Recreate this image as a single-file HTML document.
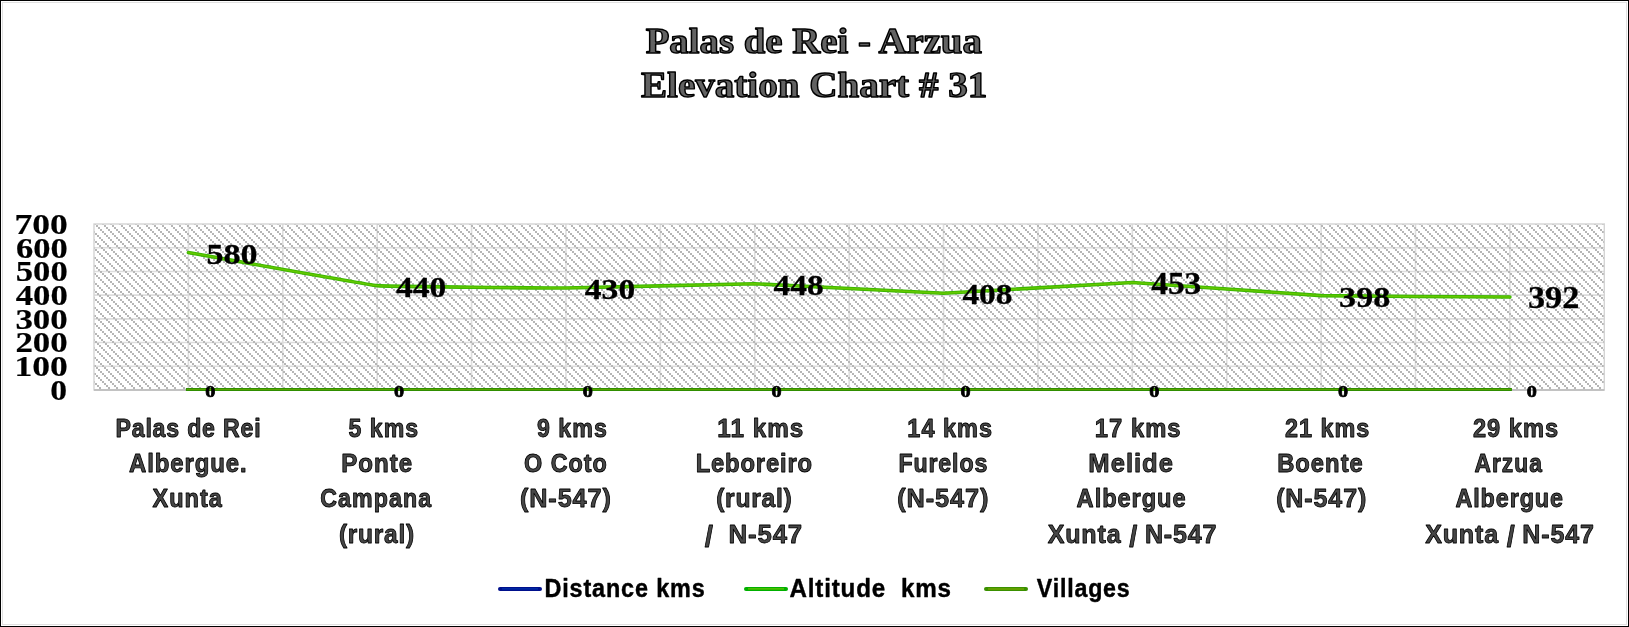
<!DOCTYPE html>
<html><head><meta charset="utf-8"><style>
html,body{margin:0;padding:0;background:#fff;}
body{width:1629px;height:627px;overflow:hidden;position:relative;}
svg{position:absolute;left:0;top:0;display:block;will-change:transform;}
</style></head><body>
<svg width="1629" height="627" viewBox="0 0 1629 627">
<defs>
<pattern id="hatch" patternUnits="userSpaceOnUse" x="96" y="225" width="25" height="50">
<g fill="#b6b6b6" shape-rendering="crispEdges">
<rect x="0" y="0" width="2" height="2"/>
<rect x="2" y="2" width="2" height="2"/>
<rect x="4" y="4" width="2" height="2"/>
<rect x="6" y="6" width="2" height="2"/>
<rect x="8" y="8" width="2" height="2"/>
<rect x="10" y="10" width="2" height="2"/>
<rect x="12" y="12" width="2" height="2"/>
<rect x="14" y="14" width="2" height="2"/>
<rect x="16" y="16" width="2" height="2"/>
<rect x="18" y="18" width="2" height="2"/>
<rect x="20" y="20" width="2" height="2"/>
<rect x="22" y="22" width="2" height="2"/>
<rect x="24" y="24" width="2" height="2"/>
<rect x="-1" y="24" width="2" height="2"/>
<rect x="1" y="26" width="2" height="2"/>
<rect x="3" y="28" width="2" height="2"/>
<rect x="5" y="30" width="2" height="2"/>
<rect x="7" y="32" width="2" height="2"/>
<rect x="9" y="34" width="2" height="2"/>
<rect x="11" y="36" width="2" height="2"/>
<rect x="13" y="38" width="2" height="2"/>
<rect x="15" y="40" width="2" height="2"/>
<rect x="17" y="42" width="2" height="2"/>
<rect x="19" y="44" width="2" height="2"/>
<rect x="21" y="46" width="2" height="2"/>
<rect x="23" y="48" width="2" height="2"/>
<rect x="8" y="0" width="2" height="2"/>
<rect x="10" y="2" width="2" height="2"/>
<rect x="12" y="4" width="2" height="2"/>
<rect x="14" y="6" width="2" height="2"/>
<rect x="16" y="8" width="2" height="2"/>
<rect x="18" y="10" width="2" height="2"/>
<rect x="20" y="12" width="2" height="2"/>
<rect x="22" y="14" width="2" height="2"/>
<rect x="24" y="16" width="2" height="2"/>
<rect x="-1" y="16" width="2" height="2"/>
<rect x="1" y="18" width="2" height="2"/>
<rect x="3" y="20" width="2" height="2"/>
<rect x="5" y="22" width="2" height="2"/>
<rect x="7" y="24" width="2" height="2"/>
<rect x="9" y="26" width="2" height="2"/>
<rect x="11" y="28" width="2" height="2"/>
<rect x="13" y="30" width="2" height="2"/>
<rect x="15" y="32" width="2" height="2"/>
<rect x="17" y="34" width="2" height="2"/>
<rect x="19" y="36" width="2" height="2"/>
<rect x="21" y="38" width="2" height="2"/>
<rect x="23" y="40" width="2" height="2"/>
<rect x="0" y="42" width="2" height="2"/>
<rect x="2" y="44" width="2" height="2"/>
<rect x="4" y="46" width="2" height="2"/>
<rect x="6" y="48" width="2" height="2"/>
<rect x="16" y="0" width="2" height="2"/>
<rect x="18" y="2" width="2" height="2"/>
<rect x="20" y="4" width="2" height="2"/>
<rect x="22" y="6" width="2" height="2"/>
<rect x="24" y="8" width="2" height="2"/>
<rect x="-1" y="8" width="2" height="2"/>
<rect x="1" y="10" width="2" height="2"/>
<rect x="3" y="12" width="2" height="2"/>
<rect x="5" y="14" width="2" height="2"/>
<rect x="7" y="16" width="2" height="2"/>
<rect x="9" y="18" width="2" height="2"/>
<rect x="11" y="20" width="2" height="2"/>
<rect x="13" y="22" width="2" height="2"/>
<rect x="15" y="24" width="2" height="2"/>
<rect x="17" y="26" width="2" height="2"/>
<rect x="19" y="28" width="2" height="2"/>
<rect x="21" y="30" width="2" height="2"/>
<rect x="23" y="32" width="2" height="2"/>
<rect x="0" y="34" width="2" height="2"/>
<rect x="2" y="36" width="2" height="2"/>
<rect x="4" y="38" width="2" height="2"/>
<rect x="6" y="40" width="2" height="2"/>
<rect x="8" y="42" width="2" height="2"/>
<rect x="10" y="44" width="2" height="2"/>
<rect x="12" y="46" width="2" height="2"/>
<rect x="14" y="48" width="2" height="2"/>
</g>
</pattern>
</defs>
<rect x="0" y="0" width="1629" height="627" fill="#fff"/>
<g shape-rendering="crispEdges">
<rect x="0" y="0" width="1629" height="1" fill="#000"/>
<rect x="0" y="626" width="1629" height="1" fill="#000"/>
<rect x="0" y="0" width="1" height="627" fill="#000"/>
<rect x="1628" y="0" width="1" height="627" fill="#000"/>
<rect x="2" y="2" width="1625" height="1" fill="#e0e0e0"/>
<rect x="2" y="624" width="1625" height="1" fill="#e0e0e0"/>
<rect x="2" y="2" width="1" height="623" fill="#e0e0e0"/>
<rect x="1626" y="2" width="1" height="623" fill="#e0e0e0"/>
</g>
<text transform="translate(645.67,53.15) scale(1.0550,1)" font-family="Liberation Serif" font-weight="bold" font-size="36.79" fill="#626262" stroke="#000" stroke-width="1.422" stroke-linejoin="round" xml:space="preserve">Palas de Rei - Arzua</text>
<text transform="translate(640.96,97.25) scale(1.0627,1)" font-family="Liberation Serif" font-weight="bold" font-size="36.79" fill="#626262" stroke="#000" stroke-width="1.411" stroke-linejoin="round" xml:space="preserve">Elevation Chart # 31</text>
<g stroke="#dddddd" stroke-width="1.6">
<line x1="94.0" y1="366.29" x2="1604.3" y2="366.29"/>
<line x1="94.0" y1="342.57" x2="1604.3" y2="342.57"/>
<line x1="94.0" y1="318.86" x2="1604.3" y2="318.86"/>
<line x1="94.0" y1="295.14" x2="1604.3" y2="295.14"/>
<line x1="94.0" y1="271.43" x2="1604.3" y2="271.43"/>
<line x1="94.0" y1="247.71" x2="1604.3" y2="247.71"/>
<line x1="188.39" y1="224.0" x2="188.39" y2="390.0"/>
<line x1="282.79" y1="224.0" x2="282.79" y2="390.0"/>
<line x1="377.18" y1="224.0" x2="377.18" y2="390.0"/>
<line x1="471.57" y1="224.0" x2="471.57" y2="390.0"/>
<line x1="565.97" y1="224.0" x2="565.97" y2="390.0"/>
<line x1="660.36" y1="224.0" x2="660.36" y2="390.0"/>
<line x1="754.76" y1="224.0" x2="754.76" y2="390.0"/>
<line x1="849.15" y1="224.0" x2="849.15" y2="390.0"/>
<line x1="943.54" y1="224.0" x2="943.54" y2="390.0"/>
<line x1="1037.94" y1="224.0" x2="1037.94" y2="390.0"/>
<line x1="1132.33" y1="224.0" x2="1132.33" y2="390.0"/>
<line x1="1226.72" y1="224.0" x2="1226.72" y2="390.0"/>
<line x1="1321.12" y1="224.0" x2="1321.12" y2="390.0"/>
<line x1="1415.51" y1="224.0" x2="1415.51" y2="390.0"/>
<line x1="1509.91" y1="224.0" x2="1509.91" y2="390.0"/>
</g>
<rect x="94.0" y="224.0" width="1510.3" height="166.0" fill="url(#hatch)"/>
<rect x="94.0" y="224.0" width="1510.3" height="166.0" fill="none" stroke="#d4d4d4" stroke-width="1.4"/>
<text transform="translate(50.26,399.81) scale(1.1445,1)" font-family="Liberation Serif" font-weight="bold" font-size="29.33" fill="#000" stroke="#000" stroke-width="0.2" stroke-linejoin="round" xml:space="preserve">0</text>
<text transform="translate(14.45,376.09) scale(1.2129,1)" font-family="Liberation Serif" font-weight="bold" font-size="29.33" fill="#000" stroke="#000" stroke-width="0.2" stroke-linejoin="round" xml:space="preserve">100</text>
<text transform="translate(15.40,352.38) scale(1.1908,1)" font-family="Liberation Serif" font-weight="bold" font-size="29.33" fill="#000" stroke="#000" stroke-width="0.2" stroke-linejoin="round" xml:space="preserve">200</text>
<text transform="translate(15.40,328.66) scale(1.1908,1)" font-family="Liberation Serif" font-weight="bold" font-size="29.33" fill="#000" stroke="#000" stroke-width="0.2" stroke-linejoin="round" xml:space="preserve">300</text>
<text transform="translate(15.68,304.95) scale(1.1843,1)" font-family="Liberation Serif" font-weight="bold" font-size="29.33" fill="#000" stroke="#000" stroke-width="0.2" stroke-linejoin="round" xml:space="preserve">400</text>
<text transform="translate(15.81,281.24) scale(1.1812,1)" font-family="Liberation Serif" font-weight="bold" font-size="29.33" fill="#000" stroke="#000" stroke-width="0.2" stroke-linejoin="round" xml:space="preserve">500</text>
<text transform="translate(15.99,257.52) scale(1.1770,1)" font-family="Liberation Serif" font-weight="bold" font-size="29.33" fill="#000" stroke="#000" stroke-width="0.2" stroke-linejoin="round" xml:space="preserve">600</text>
<text transform="translate(14.55,233.81) scale(1.2108,1)" font-family="Liberation Serif" font-weight="bold" font-size="29.33" fill="#000" stroke="#000" stroke-width="0.2" stroke-linejoin="round" xml:space="preserve">700</text>
<rect x="94.0" y="389" width="1510.3" height="2" fill="#c2c2c2"/>
<path d="M187.39,389.5 L1510.41,389.5" stroke="#2f8e00" stroke-width="3" fill="none" stroke-linecap="square"/>
<path d="M187.39,389.5 L1510.41,389.5" stroke="#5aa400" stroke-width="1" fill="none" stroke-linecap="square"/>
<path d="M188.39,252.46 C193.11,253.29 367.74,284.77 377.18,285.66 C386.62,286.55 556.53,288.08 565.97,288.03 C575.41,287.98 745.32,283.63 754.76,283.76 C764.20,283.89 934.10,293.28 943.54,293.25 C952.98,293.22 1122.89,282.51 1132.33,282.57 C1141.77,282.63 1311.68,295.26 1321.12,295.62 C1330.56,295.98 1505.19,297.00 1509.91,297.04" stroke="#3cb800" stroke-width="3.6" fill="none" stroke-linecap="round" stroke-linejoin="round"/>
<path d="M188.39,252.46 C193.11,253.29 367.74,284.77 377.18,285.66 C386.62,286.55 556.53,288.08 565.97,288.03 C575.41,287.98 745.32,283.63 754.76,283.76 C764.20,283.89 934.10,293.28 943.54,293.25 C952.98,293.22 1122.89,282.51 1132.33,282.57 C1141.77,282.63 1311.68,295.26 1321.12,295.62 C1330.56,295.98 1505.19,297.00 1509.91,297.04" stroke="#66c800" stroke-width="1.4" fill="none" stroke-linecap="round" stroke-linejoin="round"/>
<text transform="translate(206.38,263.60) scale(1.1246,1)" font-family="Liberation Serif" font-weight="bold" font-size="30.37" fill="#000" stroke="#000" stroke-width="0.3" stroke-linejoin="round" xml:space="preserve">580</text>
<text transform="translate(205.23,396.88) scale(1.1879,1)" font-family="Liberation Serif" font-weight="bold" font-size="17.04" fill="#000" stroke="#000" stroke-width="0.7" stroke-linejoin="round" xml:space="preserve">0</text>
<text transform="translate(396.03,296.80) scale(1.1052,1)" font-family="Liberation Serif" font-weight="bold" font-size="30.37" fill="#000" stroke="#000" stroke-width="0.3" stroke-linejoin="round" xml:space="preserve">440</text>
<text transform="translate(394.02,396.88) scale(1.1879,1)" font-family="Liberation Serif" font-weight="bold" font-size="17.04" fill="#000" stroke="#000" stroke-width="0.7" stroke-linejoin="round" xml:space="preserve">0</text>
<text transform="translate(584.82,299.17) scale(1.1052,1)" font-family="Liberation Serif" font-weight="bold" font-size="30.37" fill="#000" stroke="#000" stroke-width="0.3" stroke-linejoin="round" xml:space="preserve">430</text>
<text transform="translate(582.81,396.88) scale(1.1879,1)" font-family="Liberation Serif" font-weight="bold" font-size="17.04" fill="#000" stroke="#000" stroke-width="0.7" stroke-linejoin="round" xml:space="preserve">0</text>
<text transform="translate(773.60,294.91) scale(1.1013,1)" font-family="Liberation Serif" font-weight="bold" font-size="30.37" fill="#000" stroke="#000" stroke-width="0.3" stroke-linejoin="round" xml:space="preserve">448</text>
<text transform="translate(771.60,396.88) scale(1.1879,1)" font-family="Liberation Serif" font-weight="bold" font-size="17.04" fill="#000" stroke="#000" stroke-width="0.7" stroke-linejoin="round" xml:space="preserve">0</text>
<text transform="translate(962.39,304.39) scale(1.1013,1)" font-family="Liberation Serif" font-weight="bold" font-size="30.37" fill="#000" stroke="#000" stroke-width="0.3" stroke-linejoin="round" xml:space="preserve">408</text>
<text transform="translate(960.38,396.88) scale(1.1879,1)" font-family="Liberation Serif" font-weight="bold" font-size="17.04" fill="#000" stroke="#000" stroke-width="0.7" stroke-linejoin="round" xml:space="preserve">0</text>
<text transform="translate(1151.18,293.72) scale(1.0932,1)" font-family="Liberation Serif" font-weight="bold" font-size="30.60" fill="#000" stroke="#000" stroke-width="0.3" stroke-linejoin="round" xml:space="preserve">453</text>
<text transform="translate(1149.17,396.88) scale(1.1879,1)" font-family="Liberation Serif" font-weight="bold" font-size="17.04" fill="#000" stroke="#000" stroke-width="0.7" stroke-linejoin="round" xml:space="preserve">0</text>
<text transform="translate(1339.11,306.76) scale(1.1207,1)" font-family="Liberation Serif" font-weight="bold" font-size="30.37" fill="#000" stroke="#000" stroke-width="0.3" stroke-linejoin="round" xml:space="preserve">398</text>
<text transform="translate(1337.96,396.88) scale(1.1879,1)" font-family="Liberation Serif" font-weight="bold" font-size="17.04" fill="#000" stroke="#000" stroke-width="0.7" stroke-linejoin="round" xml:space="preserve">0</text>
<text transform="translate(1527.89,308.18) scale(1.1202,1)" font-family="Liberation Serif" font-weight="bold" font-size="30.60" fill="#000" stroke="#000" stroke-width="0.3" stroke-linejoin="round" xml:space="preserve">392</text>
<text transform="translate(1526.75,396.88) scale(1.1879,1)" font-family="Liberation Serif" font-weight="bold" font-size="17.04" fill="#000" stroke="#000" stroke-width="0.7" stroke-linejoin="round" xml:space="preserve">0</text>
<text transform="translate(115.49,436.60) scale(0.9198,1)" font-family="Liberation Sans" font-weight="bold" font-size="25.22" fill="#474747" stroke="#000" stroke-width="0.870" stroke-linejoin="round" letter-spacing="0.842" xml:space="preserve">Palas de Rei</text>
<text transform="translate(129.10,471.60) scale(0.9509,1)" font-family="Liberation Sans" font-weight="bold" font-size="25.22" fill="#474747" stroke="#000" stroke-width="0.841" stroke-linejoin="round" letter-spacing="0.909" xml:space="preserve">Albergue.</text>
<text transform="translate(152.46,506.60) scale(0.9326,1)" font-family="Liberation Sans" font-weight="bold" font-size="25.22" fill="#474747" stroke="#000" stroke-width="0.858" stroke-linejoin="round" letter-spacing="1.115" xml:space="preserve">Xunta</text>
<text transform="translate(348.41,436.60) scale(0.9181,1)" font-family="Liberation Sans" font-weight="bold" font-size="25.22" fill="#474747" stroke="#000" stroke-width="0.871" stroke-linejoin="round" letter-spacing="1.113" xml:space="preserve">5 kms</text>
<text transform="translate(341.13,471.60) scale(0.9559,1)" font-family="Liberation Sans" font-weight="bold" font-size="25.22" fill="#474747" stroke="#000" stroke-width="0.837" stroke-linejoin="round" letter-spacing="1.076" xml:space="preserve">Ponte</text>
<text transform="translate(320.17,506.60) scale(0.9192,1)" font-family="Liberation Sans" font-weight="bold" font-size="25.22" fill="#474747" stroke="#000" stroke-width="0.870" stroke-linejoin="round" letter-spacing="1.198" xml:space="preserve">Campana</text>
<text transform="translate(338.98,542.50) scale(0.9713,1)" font-family="Liberation Sans" font-weight="bold" font-size="25.22" fill="#474747" stroke="#000" stroke-width="0.824" stroke-linejoin="round" letter-spacing="0.748" xml:space="preserve">(rural)</text>
<text transform="translate(536.99,436.60) scale(0.9197,1)" font-family="Liberation Sans" font-weight="bold" font-size="25.22" fill="#474747" stroke="#000" stroke-width="0.870" stroke-linejoin="round" letter-spacing="1.111" xml:space="preserve">9 kms</text>
<text transform="translate(524.06,471.60) scale(0.9279,1)" font-family="Liberation Sans" font-weight="bold" font-size="25.22" fill="#474747" stroke="#000" stroke-width="0.862" stroke-linejoin="round" letter-spacing="1.046" xml:space="preserve">O Coto</text>
<text transform="translate(519.94,506.60) scale(1.0016,1)" font-family="Liberation Sans" font-weight="bold" font-size="25.22" fill="#474747" stroke="#000" stroke-width="0.799" stroke-linejoin="round" letter-spacing="0.883" xml:space="preserve">(N-547)</text>
<text transform="translate(717.32,436.60) scale(0.9625,1)" font-family="Liberation Sans" font-weight="bold" font-size="25.22" fill="#474747" stroke="#000" stroke-width="0.831" stroke-linejoin="round" letter-spacing="1.040" xml:space="preserve">11 kms</text>
<text transform="translate(695.65,471.60) scale(0.9433,1)" font-family="Liberation Sans" font-weight="bold" font-size="25.22" fill="#474747" stroke="#000" stroke-width="0.848" stroke-linejoin="round" letter-spacing="0.906" xml:space="preserve">Leboreiro</text>
<text transform="translate(716.17,506.60) scale(0.9780,1)" font-family="Liberation Sans" font-weight="bold" font-size="25.22" fill="#474747" stroke="#000" stroke-width="0.818" stroke-linejoin="round" letter-spacing="0.748" xml:space="preserve">(rural)</text>
<text transform="translate(704.64,542.50) scale(1.0235,1)" font-family="Liberation Sans" font-weight="bold" font-size="25.22" fill="#474747" stroke="#000" stroke-width="0.782" stroke-linejoin="round" letter-spacing="0.805" xml:space="preserve"><tspan font-size="29.00" dy="4.1">/</tspan><tspan dy="-4.1" dx="-1.05">  N-547</tspan></text>
<text transform="translate(907.37,436.60) scale(0.9316,1)" font-family="Liberation Sans" font-weight="bold" font-size="25.22" fill="#474747" stroke="#000" stroke-width="0.859" stroke-linejoin="round" letter-spacing="1.058" xml:space="preserve">14 kms</text>
<text transform="translate(898.39,471.60) scale(0.9199,1)" font-family="Liberation Sans" font-weight="bold" font-size="25.22" fill="#474747" stroke="#000" stroke-width="0.870" stroke-linejoin="round" letter-spacing="0.940" xml:space="preserve">Furelos</text>
<text transform="translate(897.13,506.60) scale(1.0061,1)" font-family="Liberation Sans" font-weight="bold" font-size="25.22" fill="#474747" stroke="#000" stroke-width="0.795" stroke-linejoin="round" letter-spacing="0.883" xml:space="preserve">(N-547)</text>
<text transform="translate(1094.85,436.60) scale(0.9441,1)" font-family="Liberation Sans" font-weight="bold" font-size="25.22" fill="#474747" stroke="#000" stroke-width="0.847" stroke-linejoin="round" letter-spacing="1.058" xml:space="preserve">17 kms</text>
<text transform="translate(1088.33,471.60) scale(1.0167,1)" font-family="Liberation Sans" font-weight="bold" font-size="25.22" fill="#474747" stroke="#000" stroke-width="0.787" stroke-linejoin="round" letter-spacing="0.969" xml:space="preserve">Melide</text>
<text transform="translate(1076.61,506.60) scale(0.9391,1)" font-family="Liberation Sans" font-weight="bold" font-size="25.22" fill="#474747" stroke="#000" stroke-width="0.852" stroke-linejoin="round" letter-spacing="0.983" xml:space="preserve">Albergue</text>
<text transform="translate(1047.65,542.50) scale(0.9948,1)" font-family="Liberation Sans" font-weight="bold" font-size="25.22" fill="#474747" stroke="#000" stroke-width="0.804" stroke-linejoin="round" letter-spacing="0.842" xml:space="preserve">Xunta <tspan font-size="29.00" dy="4.1">/</tspan><tspan dy="-4.1" dx="-1.05"> N-547</tspan></text>
<text transform="translate(1284.98,436.60) scale(0.9288,1)" font-family="Liberation Sans" font-weight="bold" font-size="25.22" fill="#474747" stroke="#000" stroke-width="0.861" stroke-linejoin="round" letter-spacing="1.067" xml:space="preserve">21 kms</text>
<text transform="translate(1277.15,471.60) scale(0.9438,1)" font-family="Liberation Sans" font-weight="bold" font-size="25.22" fill="#474747" stroke="#000" stroke-width="0.848" stroke-linejoin="round" letter-spacing="1.059" xml:space="preserve">Boente</text>
<text transform="translate(1276.15,506.60) scale(0.9936,1)" font-family="Liberation Sans" font-weight="bold" font-size="25.22" fill="#474747" stroke="#000" stroke-width="0.805" stroke-linejoin="round" letter-spacing="0.883" xml:space="preserve">(N-547)</text>
<text transform="translate(1472.97,436.60) scale(0.9378,1)" font-family="Liberation Sans" font-weight="bold" font-size="25.22" fill="#474747" stroke="#000" stroke-width="0.853" stroke-linejoin="round" letter-spacing="1.067" xml:space="preserve">29 kms</text>
<text transform="translate(1474.53,471.60) scale(0.9038,1)" font-family="Liberation Sans" font-weight="bold" font-size="25.22" fill="#474747" stroke="#000" stroke-width="0.885" stroke-linejoin="round" letter-spacing="1.109" xml:space="preserve">Arzua</text>
<text transform="translate(1455.42,506.60) scale(0.9269,1)" font-family="Liberation Sans" font-weight="bold" font-size="25.22" fill="#474747" stroke="#000" stroke-width="0.863" stroke-linejoin="round" letter-spacing="0.983" xml:space="preserve">Albergue</text>
<text transform="translate(1425.15,542.50) scale(0.9942,1)" font-family="Liberation Sans" font-weight="bold" font-size="25.22" fill="#474747" stroke="#000" stroke-width="0.805" stroke-linejoin="round" letter-spacing="0.842" xml:space="preserve">Xunta <tspan font-size="29.00" dy="4.1">/</tspan><tspan dy="-4.1" dx="-1.05"> N-547</tspan></text>
<line x1="500" y1="588.9" x2="540" y2="588.9" stroke="#00108c" stroke-width="4" stroke-linecap="round"/>
<line x1="502" y1="588.9" x2="538" y2="588.9" stroke="#0030aa" stroke-width="1.3"/>
<line x1="746" y1="588.9" x2="786" y2="588.9" stroke="#00b000" stroke-width="4" stroke-linecap="round"/>
<line x1="748" y1="588.9" x2="784" y2="588.9" stroke="#66c400" stroke-width="1.4"/>
<line x1="986" y1="589" x2="1026" y2="589" stroke="#3a9000" stroke-width="4" stroke-linecap="round"/>
<line x1="988" y1="589" x2="1024" y2="589" stroke="#70a600" stroke-width="1.4"/>
<text transform="translate(544.48,596.70) scale(0.8969,1)" font-family="Liberation Sans" font-weight="bold" font-size="26.09" fill="#000" stroke="#000" stroke-width="0.446" stroke-linejoin="round" letter-spacing="0.960" xml:space="preserve">Distance kms</text>
<text transform="translate(789.60,596.70) scale(0.9271,1)" font-family="Liberation Sans" font-weight="bold" font-size="26.09" fill="#000" stroke="#000" stroke-width="0.431" stroke-linejoin="round" letter-spacing="0.862" xml:space="preserve">Altitude  kms</text>
<text transform="translate(1036.87,596.70) scale(0.8906,1)" font-family="Liberation Sans" font-weight="bold" font-size="26.09" fill="#000" stroke="#000" stroke-width="0.449" stroke-linejoin="round" letter-spacing="0.883" xml:space="preserve">Villages</text>
</svg>
</body></html>
